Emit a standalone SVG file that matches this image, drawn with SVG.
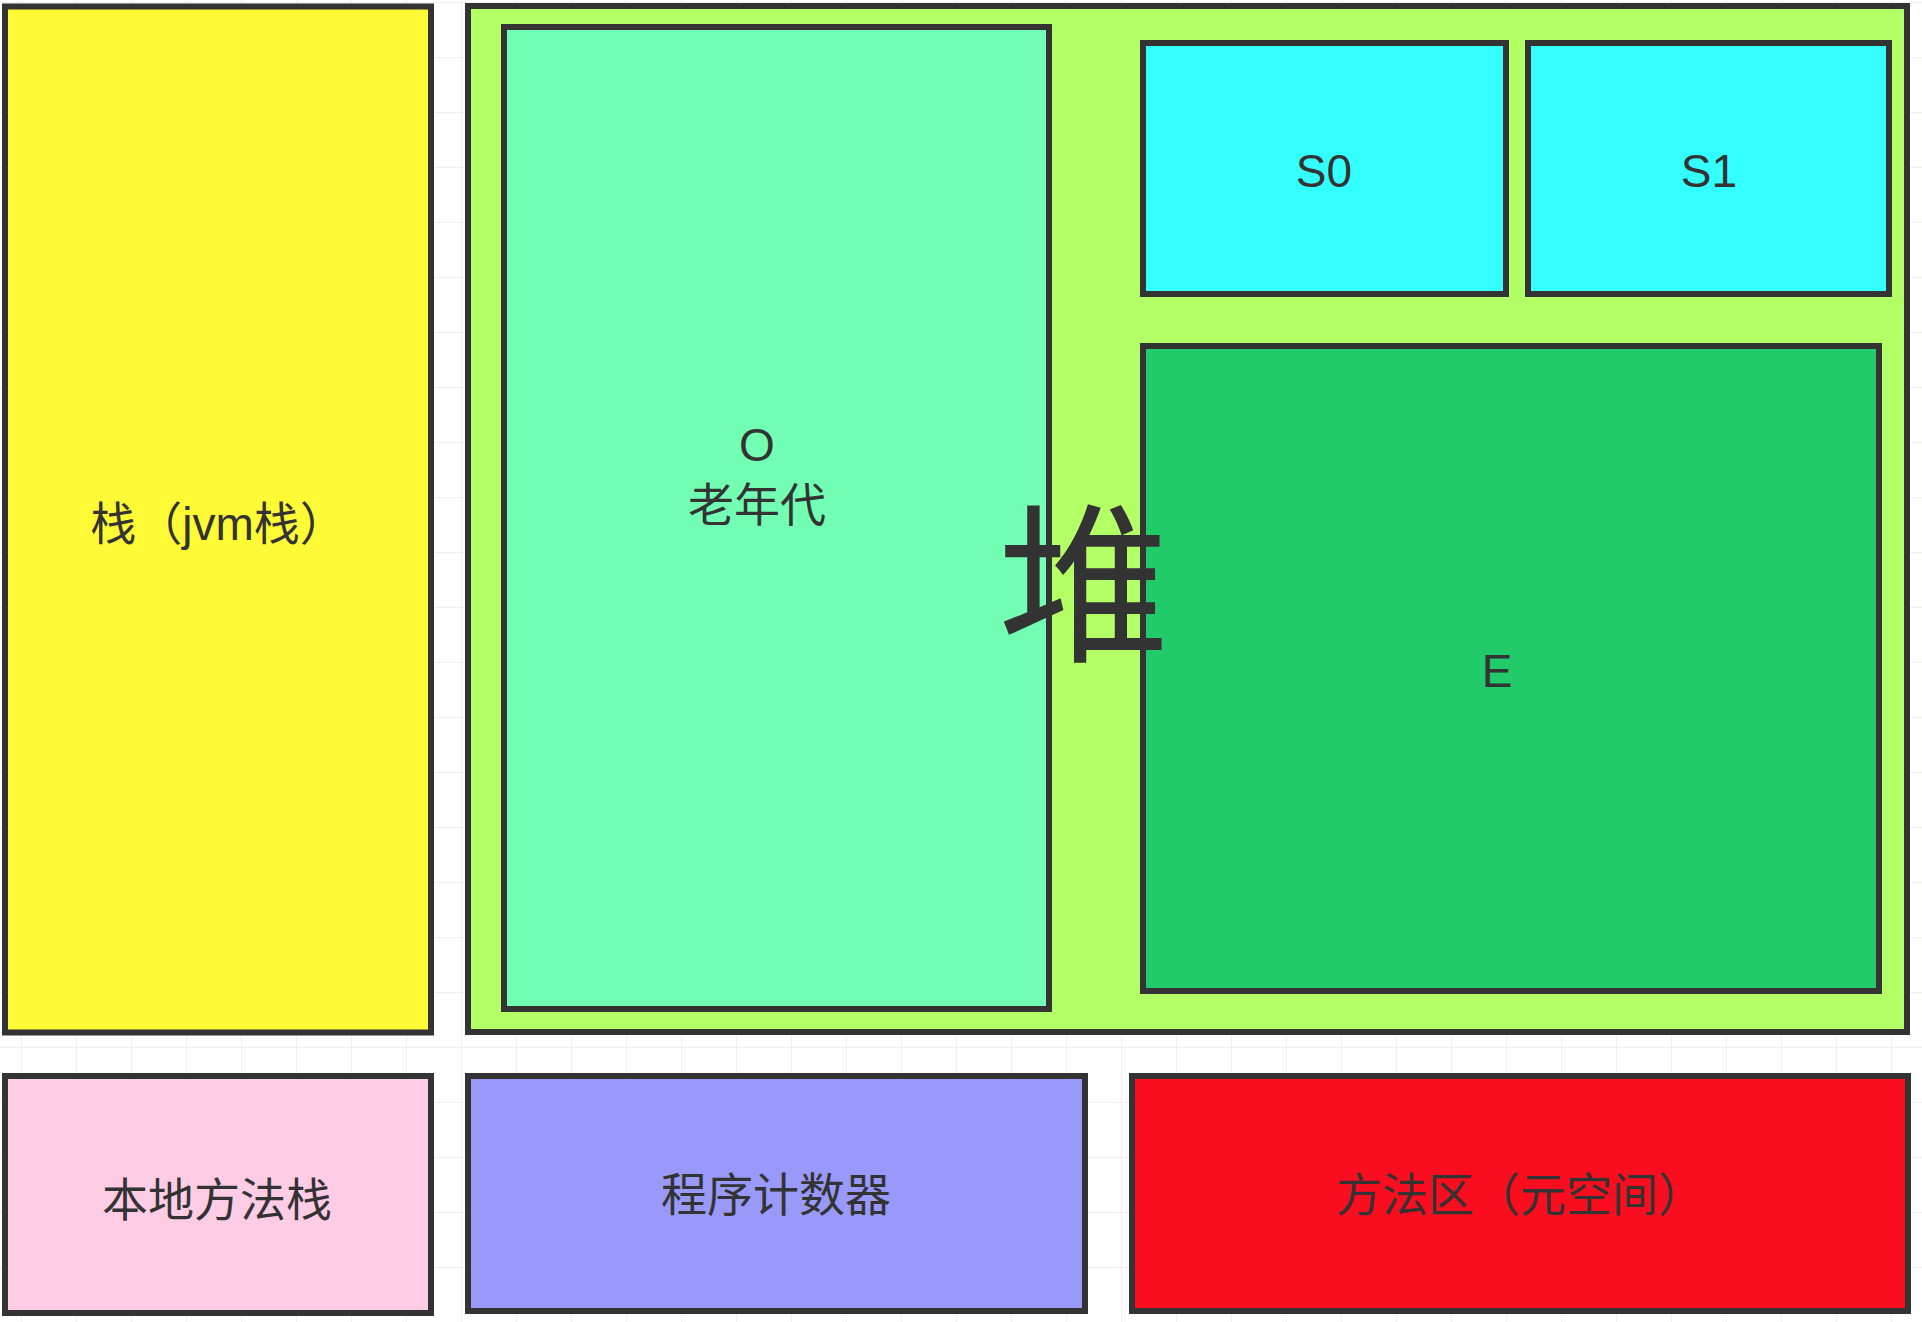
<svg xmlns="http://www.w3.org/2000/svg" width="1922" height="1322" viewBox="0 0 1922 1322">
  <defs>
    <pattern id="grid" patternUnits="userSpaceOnUse" x="21" y="2" width="55" height="55">
      <path d="M0 0 H55 M0 0 V55" fill="none" stroke="#ebebeb" stroke-width="1.5"/>
    </pattern>
  </defs>
  <style>
    .box { stroke: #333333; stroke-width: 6; }
    .lbl { font-family: "Liberation Sans", "Noto Sans CJK SC", sans-serif; font-size: 46px; fill: #333333; text-anchor: middle; }
    .big { font-family: "Noto Sans CJK SC", "Liberation Sans", sans-serif; font-size: 172px; font-weight: normal; fill: #333333; text-anchor: middle; }
  </style>
  <rect x="0" y="0" width="1922" height="1322" fill="#ffffff"/>
  <rect x="0" y="0" width="1922" height="1322" fill="url(#grid)"/>

  <g id="jvm-stack">
    <rect class="box" x="5" y="6.5" width="426" height="1026" fill="#FFFA36"/>
    <text class="lbl" x="218" y="540">栈（jvm栈）</text>
  </g>

  <g id="heap">
    <rect class="box" x="468" y="6" width="1439" height="1026" fill="#B3FF66"/>
  </g>

  <g id="old-gen">
    <rect class="box" x="504" y="27" width="545" height="982" fill="#72FFB3"/>
    <text class="lbl" x="757" y="461">O</text>
    <text class="lbl" x="757" y="521">老年代</text>
  </g>

  <g id="s0">
    <rect class="box" x="1143" y="43" width="363" height="251" fill="#33FFFF"/>
    <text class="lbl" x="1324" y="187">S0</text>
  </g>

  <g id="s1">
    <rect class="box" x="1528" y="43" width="361" height="251" fill="#33FFFF"/>
    <text class="lbl" x="1709" y="187">S1</text>
  </g>

  <g id="eden">
    <rect class="box" x="1143" y="346" width="736" height="645" fill="#22CB6A"/>
    <text class="lbl" x="1497" y="687">E</text>
  </g>

  <g id="native-stack">
    <rect class="box" x="5" y="1076" width="426" height="237" fill="#FFCCE6"/>
    <text class="lbl" x="217" y="1216">本地方法栈</text>
  </g>

  <g id="pc-register">
    <rect class="box" x="468" y="1076" width="617" height="235" fill="#9999FA"/>
    <text class="lbl" x="776" y="1211">程序计数器</text>
  </g>

  <g id="method-area">
    <rect class="box" x="1132" y="1076" width="776" height="235" fill="#FA0D1E"/>
    <text class="lbl" x="1520" y="1211">方法区（元空间）</text>
  </g>

  <g id="heap-label">
    <text class="big" x="1084" y="648">堆</text>
  </g>

  <g id="connectors"></g>
</svg>
